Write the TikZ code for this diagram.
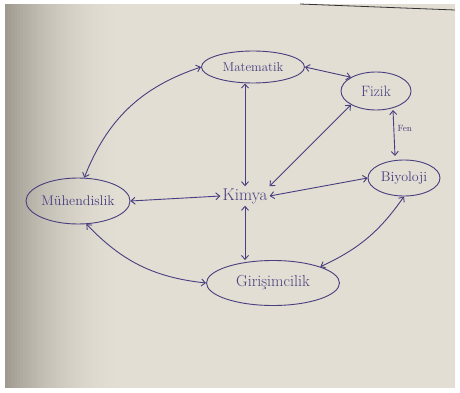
\documentclass[tikz,border=0pt]{standalone}
\usetikzlibrary{arrows.meta,shapes.geometric}
\definecolor{paper}{RGB}{226,222,211}
\definecolor{shadow}{RGB}{160,155,145}
\definecolor{ink}{RGB}{72,62,128}
\tikzset{
  pen/.style={draw=ink, line width=0.9pt},
  topic/.style={ellipse, pen, inner sep=0pt},
  word/.style={text=ink, font=\fontsize{#1}{#1}\selectfont},
  link/.style={pen, {Straight Barb[length=4pt,width=7pt]}-{Straight Barb[length=4pt,width=7pt]}},
}
\begin{document}
\begin{tikzpicture}[x=1pt,y=-1pt]
\useasboundingbox (0,0) rectangle (460,393);
\fill[white] (0,0) rectangle (460,393);
\fill[paper] (5,4) rectangle (455,388);
\foreach \i in {0,...,39}{
  \pgfmathsetmacro{\p}{100*(1-\i/40)^2}
  \fill[shadow!\p!paper] ({5+3*\i},4) rectangle ({5+3*\i+3.2},388);
}
\draw[black!80, line width=0.8pt] (300,4) -- (455,10);

\node[topic, minimum width=103pt, minimum height=32pt,
  label={[word=13]center:Matematik}] (mat) at (253,67) {};
\node[topic, minimum width=70pt, minimum height=38pt,
  label={[word=15]center:Fizik}] (fiz) at (376,91) {};
\node[topic, minimum width=72pt, minimum height=36pt,
  label={[word=14]center:Biyoloji}] (biy) at (404,178) {};
\node[topic, minimum width=104pt, minimum height=46pt,
  label={[word=14]center:Mühendislik}] (muh) at (78,201) {};
\node[word=17, inner sep=2pt] (kim) at (245,196) {Kimya};
\node[topic, minimum width=133pt, minimum height=45pt,
  label={[word=16]center:Girişimcilik}] (gir) at (273,283) {};

\coordinate (fizb) at (393,110);
\coordinate (biyt) at (395,156);
\draw[link] (mat.west) to[bend right=25] (muh.75);
\draw[link] (mat.east) -- (fiz.north west);
\draw[link] (mat.south -| kim.north) -- (kim.north);
\draw[link] (fiz.south west) -- (kim.north east);
\draw[link] (fizb) -- node[right, word=9, pos=0.4] (fen) {Fen} (biyt);
\draw[link] (kim.west) -- (muh.east);
\draw[link] (kim.east) -- (biy.west);
\draw[link] (kim.south) -- (gir.north -| kim.south);
\draw[link] (muh.-70) to[bend right=20] (gir.west);
\draw[link] (biy.south) to[bend left=15] (gir.north east);
\end{tikzpicture}
\end{document}
